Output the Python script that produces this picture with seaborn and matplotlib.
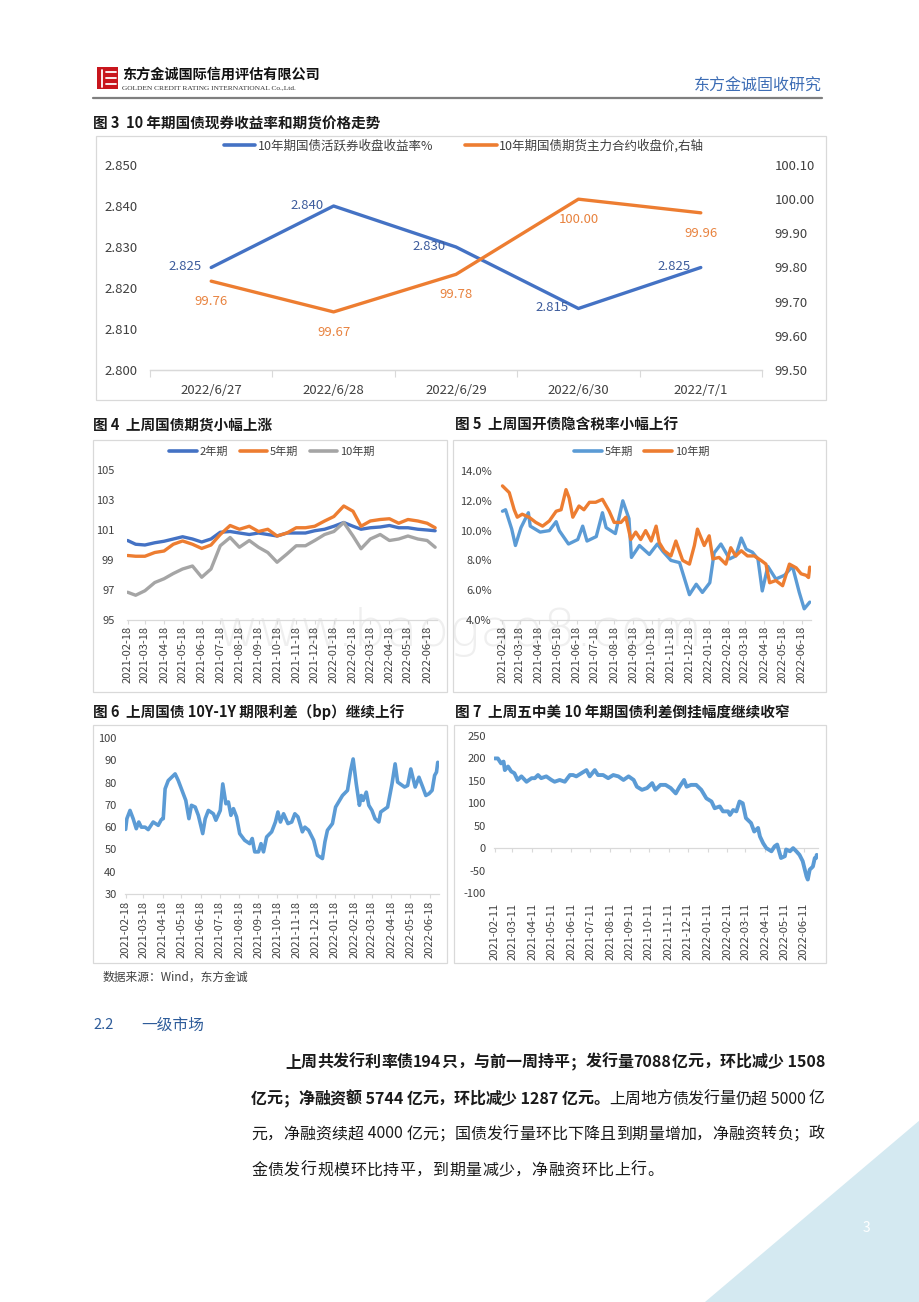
import re
import numpy as np
import pandas as pd
import seaborn as sns
import matplotlib.pyplot as plt
import matplotlib.dates as mdates
from matplotlib.patches import Rectangle, Polygon
from matplotlib.lines import Line2D

# ---- 图3: 10年期国债现券收益率和期货价格 ----
days3 = ['2022/6/27', '2022/6/28', '2022/6/29', '2022/6/30', '2022/7/1']
yield10 = [2.825, 2.840, 2.830, 2.815, 2.825]
fut10 = [99.76, 99.67, 99.78, 100.00, 99.96]

# ---- 图4: 国债期货 (半月读数) ----
dates4 = ['2021-02-18', '2021-03-03', '2021-03-18', '2021-04-03', '2021-04-18', '2021-05-03',
          '2021-05-18', '2021-06-03', '2021-06-18', '2021-07-03', '2021-07-18', '2021-08-03',
          '2021-08-18', '2021-09-03', '2021-09-18', '2021-10-03', '2021-10-18', '2021-11-03',
          '2021-11-18', '2021-12-03', '2021-12-18', '2022-01-03', '2022-01-18', '2022-02-03',
          '2022-02-18', '2022-03-03', '2022-03-18', '2022-04-03', '2022-04-18', '2022-05-03',
          '2022-05-18', '2022-06-03', '2022-06-18', '2022-07-01']
tf2 = [100.3, 100.05, 100.0, 100.15, 100.25, 100.4, 100.55, 100.4, 100.2, 100.4, 100.85, 100.9,
       100.8, 100.7, 100.8, 100.7, 100.6, 100.8, 100.8, 100.8, 100.95, 101.05, 101.25, 101.5,
       101.25, 101.05, 101.15, 101.2, 101.3, 101.15, 101.15, 101.05, 101.0, 100.95]
tf5 = [99.3, 99.25, 99.25, 99.5, 99.6, 100.05, 100.27, 100.05, 99.77, 100.0, 100.7, 101.3,
       101.05, 101.25, 100.9, 101.05, 100.6, 100.8, 101.15, 101.15, 101.25, 101.6, 101.9, 102.6,
       102.25, 101.25, 101.6, 101.7, 101.75, 101.45, 101.7, 101.6, 101.45, 101.15]
tf10 = [96.85, 96.65, 96.95, 97.5, 97.75, 98.1, 98.4, 98.6, 97.85, 98.4, 99.95, 100.5,
        99.85, 100.3, 99.85, 99.5, 98.85, 99.4, 99.95, 99.95, 100.3, 100.7, 100.9, 101.5,
        100.6, 99.75, 100.4, 100.7, 100.3, 100.4, 100.6, 100.4, 100.3, 99.85]

# ---- 图5: 国开债隐含税率 (%) ----
dates5a = ['2021-02-18', '2021-02-23', '2021-03-05', '2021-03-11', '2021-03-20', '2021-04-01',
           '2021-04-04', '2021-04-20', '2021-05-05', '2021-05-16', '2021-05-21', '2021-06-05',
           '2021-06-20', '2021-06-28', '2021-07-05', '2021-07-20', '2021-07-30', '2021-08-05',
           '2021-08-20', '2021-09-01', '2021-09-11', '2021-09-15', '2021-09-28', '2021-10-14',
           '2021-10-27', '2021-11-05', '2021-11-18', '2021-12-02', '2021-12-18', '2021-12-29',
           '2022-01-08', '2022-01-20', '2022-01-27', '2022-02-07', '2022-02-21', '2022-03-03',
           '2022-03-12', '2022-03-20', '2022-03-30', '2022-04-08', '2022-04-15', '2022-04-24',
           '2022-05-07', '2022-05-21', '2022-06-03', '2022-06-14', '2022-06-22', '2022-07-01']
tax5 = [11.3, 11.4, 10.1, 9.0, 10.2, 11.2, 10.3, 9.9, 10.0, 10.6, 10.0, 9.1,
        9.4, 10.3, 9.3, 9.6, 11.2, 10.2, 9.8, 12.0, 10.8, 8.2, 9.0, 8.4,
        9.1, 8.6, 8.0, 7.85, 5.7, 6.4, 5.85, 6.5, 8.5, 9.1, 8.1, 8.3,
        9.5, 8.75, 8.55, 8.1, 5.95, 7.6, 6.75, 7.0, 7.6, 5.85, 4.75, 5.2]
dates5b = ['2021-02-18', '2021-03-01', '2021-03-09', '2021-03-14', '2021-03-22', '2021-04-02',
           '2021-04-13', '2021-04-24', '2021-05-05', '2021-05-16', '2021-05-24', '2021-06-01',
           '2021-06-06', '2021-06-12', '2021-06-22', '2021-06-30', '2021-07-09', '2021-07-19',
           '2021-07-30', '2021-08-10', '2021-08-18', '2021-08-29', '2021-09-06', '2021-09-14',
           '2021-09-22', '2021-09-30', '2021-10-08', '2021-10-17', '2021-10-25', '2021-10-30',
           '2021-11-07', '2021-11-18', '2021-11-26', '2021-12-07', '2021-12-18', '2021-12-26',
           '2021-12-31', '2022-01-11', '2022-01-19', '2022-01-25', '2022-02-04', '2022-02-15',
           '2022-02-23', '2022-03-03', '2022-03-12', '2022-03-22', '2022-04-02', '2022-04-13',
           '2022-04-21', '2022-04-27', '2022-05-07', '2022-05-18', '2022-05-29', '2022-06-09',
           '2022-06-17', '2022-06-25', '2022-06-29', '2022-07-01']
tax10 = [13.0, 12.55, 11.4, 10.9, 11.1, 10.9, 10.55, 10.3, 10.65, 11.3, 11.4, 12.75,
         12.2, 10.9, 11.65, 11.4, 11.9, 11.9, 12.1, 11.3, 10.55, 10.55, 10.9, 9.4,
         9.9, 9.4, 10.0, 9.3, 10.3, 9.2, 8.65, 8.3, 9.3, 8.0, 7.75, 9.0,
         10.1, 9.0, 9.65, 8.1, 8.2, 7.75, 8.85, 8.3, 8.65, 8.3, 8.3, 8.0,
         7.75, 6.5, 6.65, 6.3, 7.75, 7.5, 7.1, 7.0, 6.85, 7.55]

# ---- 图6: 10Y-1Y 期限利差 (bp) ----
dates6 = ['2021-02-18', '2021-02-20', '2021-02-25', '2021-03-02', '2021-03-07', '2021-03-11',
          '2021-03-15', '2021-03-21', '2021-03-26', '2021-04-03', '2021-04-11', '2021-04-16',
          '2021-04-19', '2021-04-22', '2021-04-27', '2021-05-08', '2021-05-13', '2021-05-20',
          '2021-05-25', '2021-05-30', '2021-06-03', '2021-06-09', '2021-06-14', '2021-06-21',
          '2021-06-25', '2021-06-30', '2021-07-08', '2021-07-12', '2021-07-19', '2021-07-23',
          '2021-07-28', '2021-08-01', '2021-08-05', '2021-08-09', '2021-08-14', '2021-08-19',
          '2021-08-27', '2021-09-04', '2021-09-08', '2021-09-12', '2021-09-18', '2021-09-22',
          '2021-09-26', '2021-10-01', '2021-10-09', '2021-10-15', '2021-10-19', '2021-10-23',
          '2021-10-28', '2021-11-04', '2021-11-10', '2021-11-15', '2021-11-20', '2021-11-27',
          '2021-12-01', '2021-12-07', '2021-12-15', '2021-12-21', '2021-12-29', '2022-01-02',
          '2022-01-06', '2022-01-14', '2022-01-19', '2022-01-30', '2022-02-07', '2022-02-12',
          '2022-02-16', '2022-02-21', '2022-02-26', '2022-03-01', '2022-03-04', '2022-03-09',
          '2022-03-13', '2022-03-18', '2022-03-23', '2022-03-29', '2022-04-01', '2022-04-12',
          '2022-04-19', '2022-04-24', '2022-04-28', '2022-05-09', '2022-05-14', '2022-05-19',
          '2022-05-26', '2022-06-01', '2022-06-07', '2022-06-12', '2022-06-17', '2022-06-22',
          '2022-06-26', '2022-06-29', '2022-07-01']
spread6 = [59, 63.8, 67.5, 63.8, 59.3, 62.3, 60, 60, 58.9, 62.3,
           60.8, 63.4, 63.8, 77.2, 80.9, 83.9, 80.9, 75.7, 72.0, 63.8,
           69.8, 69, 65.3, 57.1, 63.8, 67.5, 66, 63.1, 67.5, 79.4,
           70.5, 71.3, 65.3, 68.3, 64.6, 57.1, 54.1, 52.6, 54.9, 48.9,
           48.9, 52.6, 48.9, 55.6, 57.9, 62.3, 66.8, 62.3, 66, 61.6,
           62.3, 66, 64.6, 57.9, 60, 58.6, 54.1, 47.4, 45.9, 53.4,
           58.6, 61.6, 69, 74.2, 76.5, 85.4, 90.6, 79.4, 69.8, 74.2,
           72, 75.7, 69.8, 67.5, 63.8, 62.3, 66.8, 69, 79.4, 88.4,
           80.2, 78, 78.7, 86.1, 78, 82.4, 78, 74.2, 75, 76.5,
           83.2, 84.7, 89.1]

# ---- 图7: 中美10年期国债利差 (bp) ----
dates7 = ['2021-02-11', '2021-02-16', '2021-02-21', '2021-02-25', '2021-02-27', '2021-03-04',
          '2021-03-09', '2021-03-14', '2021-03-19', '2021-03-25', '2021-04-02', '2021-04-10',
          '2021-04-15', '2021-04-20', '2021-04-25', '2021-05-03', '2021-05-11', '2021-05-16',
          '2021-05-24', '2021-06-01', '2021-06-09', '2021-06-14', '2021-06-19', '2021-06-27',
          '2021-07-05', '2021-07-10', '2021-07-18', '2021-07-23', '2021-07-31', '2021-08-08',
          '2021-08-16', '2021-08-24', '2021-09-01', '2021-09-09', '2021-09-17', '2021-09-22',
          '2021-09-30', '2021-10-08', '2021-10-16', '2021-10-21', '2021-10-29', '2021-11-06',
          '2021-11-14', '2021-11-22', '2021-11-28', '2021-12-05', '2021-12-09', '2021-12-16',
          '2021-12-24', '2022-01-01', '2022-01-09', '2022-01-17', '2022-01-22', '2022-01-30',
          '2022-02-04', '2022-02-12', '2022-02-15', '2022-02-20', '2022-02-25', '2022-03-02',
          '2022-03-07', '2022-03-12', '2022-03-20', '2022-03-25', '2022-03-31', '2022-04-03',
          '2022-04-08', '2022-04-13', '2022-04-21', '2022-04-26', '2022-04-30', '2022-05-06',
          '2022-05-12', '2022-05-14', '2022-05-20', '2022-05-25', '2022-05-30', '2022-06-04',
          '2022-06-09', '2022-06-15', '2022-06-17', '2022-06-20', '2022-06-25', '2022-06-28',
          '2022-06-30', '2022-07-01']
cnus7 = [200, 200, 189, 193, 174, 182, 171, 167, 152, 160,
         148, 156, 156, 163, 156, 160, 152, 148, 152, 148,
         163, 163, 160, 167, 174, 160, 174, 163, 163, 156,
         163, 160, 152, 160, 152, 137, 130, 134, 145, 130,
         141, 141, 134, 122, 137, 152, 137, 141, 141, 130,
         111, 104, 89, 93, 82, 82, 74, 85, 82, 104,
         100, 67, 56, 37, 45, 26, 11, 0, -7, 4,
         8, -22, -18, -3, -7, 0, -7, -15, -29, -63,
         -70, -48, -41, -22, -22, -15]

para = [
    [('上周共发行利率债194只，与前一周持平；发行量7088亿元，环比减少 1508', 'bold')],
    [('亿元；净融资额 5744 亿元，环比减少 1287 亿元。', 'bold'), ('上周地方债发行量仍超 5000 亿', 'normal')],
    [('元，净融资续超 4000 亿元；国债发行量环比下降且到期量增加，净融资转负；政', 'normal')],
    [('金债发行规模环比持平，到期量减少，净融资环比上行。', 'normal')],
]

sns.set_theme(style='white')
plt.rcParams['font.family'] = ['Noto Sans CJK SC', 'DejaVu Sans']
plt.rcParams['axes.unicode_minus'] = False

W, H = 920, 1302
fig = plt.figure(figsize=(W / 100, H / 100), dpi=100)
fig.patch.set_facecolor('white')

AX = '#d9d9d9'
TC = '#404040'
BLUE = '#4472C4'
ORANGE = '#ED7D31'
GRAY = '#A5A5A5'
LBLUE = '#5B9BD5'
TFS = 10.5


def fx(x):
    return x / W


def fy(y):
    return 1 - y / H


def add_ax(x0, y0, x1, y1):
    return fig.add_axes([x0 / W, 1 - y1 / H, (x1 - x0) / W, (y1 - y0) / H])


def box(x0, y0, x1, y1):
    fig.patches.append(Rectangle((fx(x0), fy(y1)), (x1 - x0) / W, (y1 - y0) / H,
                                 transform=fig.transFigure, fill=False, ec=AX, lw=0.9))


def txt(x, y, s, **kw):
    kw.setdefault('va', 'center')
    kw.setdefault('color', '#1a1a1a')
    return fig.text(fx(x), fy(y), s, **kw)


def style(ax, pad=5):
    for s in ['top', 'right', 'left']:
        ax.spines[s].set_visible(False)
    ax.spines['bottom'].set_color(AX)
    ax.spines['bottom'].set_linewidth(0.9)
    ax.set_xlabel('')
    ax.set_ylabel('')
    ax.grid(False)
    ax.patch.set_alpha(0)
    ax.tick_params(axis='y', length=0, labelsize=8, labelcolor=TC, pad=pad)


def date_axis(ax, day, lo, hi, pad=1):
    ax.set_xlim(pd.Timestamp(lo), pd.Timestamp(hi))
    ax.xaxis.set_major_locator(mdates.MonthLocator(bymonthday=day))
    ax.xaxis.set_major_formatter(mdates.DateFormatter('%Y-%m-%d'))
    ax.tick_params(axis='x', bottom=True, length=3, width=0.8, color=AX, labelsize=8,
                   labelcolor=TC, pad=pad, labelrotation=90)


def small_legend(labels, colors, cx, cy, fs=8):
    hs = [Line2D([], [], color=c, lw=2.6) for c in colors]
    lg = fig.legend(hs, labels, loc='center', bbox_to_anchor=(fx(cx), fy(cy)), ncol=len(hs),
                    frameon=False, fontsize=fs, handlelength=2.5, handletextpad=0.25,
                    columnspacing=1.0, borderaxespad=0, borderpad=0)
    for t in lg.get_texts():
        t.set_color(TC)
    return lg


# ---------------- header ----------------
fig.patches.append(Rectangle((fx(97), fy(89)), 21 / W, 22 / H, transform=fig.transFigure,
                             fc='#c8161d', ec='none'))
for yy in [72, 78, 84]:
    fig.add_artist(Line2D([fx(106), fx(116)], [fy(yy), fy(yy)], color='white', lw=1.3))
fig.add_artist(Line2D([fx(102), fx(102)], [fy(70), fy(87)], color='white', lw=1.3))
txt(122, 75, '东方金诚国际信用评估有限公司', fontsize=10.2, weight='bold', color='#111111')
txt(122, 88, 'GOLDEN CREDIT RATING INTERNATIONAL Co.,Ltd.', fontsize=5.3,
    family='Liberation Serif', color='#333333')
txt(822, 86, '东方金诚固收研究', ha='right', fontsize=11.5, color='#3d6db5')
fig.add_artist(Line2D([fx(93), fx(822)], [fy(98), fy(98)], color='#7f7f7f', lw=1.6))

# watermark
txt(460, 632, 'www.baogao8.com', ha='center', fontsize=37, color='#efefef',
    family='DejaVu Sans', weight='light', zorder=-1)

# ---------------- 图3 ----------------
txt(93, 124, '图 3  10 年期国债现券收益率和期货价格走势', fontsize=TFS, weight='bold')
box(96, 136, 826, 400)
ax3 = add_ax(150, 165, 762, 370)
x3 = np.arange(len(days3))
sns.lineplot(x=x3, y=yield10, ax=ax3, color=BLUE, lw=2.4, legend=False)
ax3b = ax3.twinx()
sns.lineplot(x=x3, y=fut10, ax=ax3b, color=ORANGE, lw=2.4, legend=False)
style(ax3, pad=9)
style(ax3b, pad=9)
ax3.set_xlim(-0.5, len(days3) - 0.5)
ax3.set_ylim(2.800, 2.850)
ax3.set_yticks([2.80, 2.81, 2.82, 2.83, 2.84, 2.85])
ax3.set_yticklabels([f'{v:.3f}' for v in ax3.get_yticks()])
ax3b.set_ylim(99.5, 100.1)
ax3b.set_yticks([99.5, 99.6, 99.7, 99.8, 99.9, 100.0, 100.1])
ax3b.set_yticklabels([f'{v:.2f}' for v in ax3b.get_yticks()])
ax3.tick_params(axis='y', labelsize=9.5)
ax3b.tick_params(axis='y', labelsize=9.5)
ax3.set_xticks(x3)
ax3.set_xticklabels(days3)
ax3.set_xticks(np.arange(-0.5, len(days3)), minor=True)
ax3.tick_params(axis='x', which='major', length=0, labelsize=9.5, labelcolor=TC, pad=10)
ax3.tick_params(axis='x', which='minor', bottom=True, length=5, width=0.8, color=AX)
for xi, v in zip(x3, yield10):
    ax3.annotate(f'{v:.3f}', (xi, v), xytext=(-10, 1), textcoords='offset pixels',
                 ha='right', va='center', fontsize=9.5, color='#3d5c9c')
for xi, v in zip(x3, fut10):
    ax3b.annotate(f'{v:.2f}', (xi, v), xytext=(0, -14), textcoords='offset pixels',
                  ha='center', va='top', fontsize=9.5, color='#E8823E')
lg3 = fig.legend([Line2D([], [], color=BLUE, lw=2.6), Line2D([], [], color=ORANGE, lw=2.6)],
                 ['10年期国债活跃券收盘收益率%', '10年期国债期货主力合约收盘价,右轴'],
                 loc='center', bbox_to_anchor=(fx(464), fy(146)), ncol=2, frameon=False,
                 fontsize=9, handlelength=2.5, handletextpad=0.2, columnspacing=2.6,
                 borderaxespad=0, borderpad=0)
for t in lg3.get_texts():
    t.set_color(TC)

# ---------------- 图4 ----------------
txt(93, 425, '图 4  上周国债期货小幅上涨', fontsize=TFS, weight='bold')
box(93, 440, 447, 692)
ax4 = add_ax(127, 470, 437, 620)
df4 = pd.DataFrame({'date': pd.to_datetime(dates4), '2年期': tf2, '5年期': tf5, '10年期': tf10})
df4 = df4.melt('date', var_name='品种', value_name='价格')
sns.lineplot(data=df4, x='date', y='价格', hue='品种', hue_order=['2年期', '5年期', '10年期'],
             palette=[BLUE, ORANGE, GRAY], lw=2.4, ax=ax4, legend=False)
style(ax4, pad=9)
ax4.set_ylim(95, 105)
ax4.set_yticks([95, 97, 99, 101, 103, 105])
date_axis(ax4, 18, '2021-02-17', '2022-07-04')
small_legend(['2年期', '5年期', '10年期'], [BLUE, ORANGE, GRAY], 272, 452)

# ---------------- 图5 ----------------
txt(455, 425, '图 5  上周国开债隐含税率小幅上行', fontsize=TFS, weight='bold')
box(453, 440, 826, 692)
ax5 = add_ax(500, 471, 811, 620)
df5 = pd.concat([
    pd.DataFrame({'date': pd.to_datetime(dates5a), 'rate': tax5, '品种': '5年期'}),
    pd.DataFrame({'date': pd.to_datetime(dates5b), 'rate': tax10, '品种': '10年期'}),
])
sns.lineplot(data=df5, x='date', y='rate', hue='品种', hue_order=['5年期', '10年期'],
             palette=[LBLUE, ORANGE], lw=2.4, ax=ax5, legend=False)
style(ax5, pad=6)
ax5.set_ylim(4, 14)
ax5.set_yticks([4, 6, 8, 10, 12, 14])
ax5.set_yticklabels([f'{v:.1f}%' for v in ax5.get_yticks()])
date_axis(ax5, 18, '2021-02-14', '2022-07-03')
small_legend(['5年期', '10年期'], [LBLUE, ORANGE], 642, 452)

# ---------------- 图6 ----------------
txt(93, 712, '图 6  上周国债 10Y-1Y 期限利差（bp）继续上行', fontsize=TFS, weight='bold')
box(93, 725, 447, 963)
ax6 = add_ax(125, 738, 439, 894)
sns.lineplot(x=pd.to_datetime(dates6), y=spread6, color=LBLUE, lw=2.6, ax=ax6, legend=False)
style(ax6, pad=6)
ax6.set_ylim(30, 100)
ax6.set_yticks(range(30, 101, 10))
date_axis(ax6, 18, '2021-02-17', '2022-07-03', pad=2)

# ---------------- 图7 ----------------
txt(455, 712, '图 7  上周五中美 10 年期国债利差倒挂幅度继续收窄', fontsize=TFS, weight='bold')
box(454, 725, 826, 963)
ax7 = add_ax(494, 736, 818, 893)
sns.lineplot(x=pd.to_datetime(dates7), y=cnus7, color=LBLUE, lw=2.8, ax=ax7, legend=False)
style(ax7, pad=6)
ax7.spines['bottom'].set_visible(False)
ax7.set_ylim(-100, 250)
ax7.set_yticks(range(-100, 251, 50))
date_axis(ax7, 11, '2021-02-10', '2022-07-03', pad=7)
ax7.tick_params(axis='x', length=0)
lo7, hi7 = ax7.get_ylim()
sec = ax7.secondary_xaxis((0 - lo7) / (hi7 - lo7))
sec.xaxis.set_major_locator(mdates.MonthLocator(bymonthday=11))
sec.tick_params(axis='x', length=3, width=0.8, color=AX, labelbottom=False, labeltop=False)
for s in sec.spines.values():
    s.set_color(AX)
    s.set_linewidth(0.9)

txt(103, 977, '数据来源：Wind，东方金诚', fontsize=8.5, color='#404040')

# ---------------- 正文 ----------------
txt(93, 1025, '2.2', fontsize=10.5, color='#2e5c9a')
txt(141, 1025, '一级市场', fontsize=11.3, color='#2e5c9a')

renderer = fig.canvas.get_renderer()
FS = 11.5


def justify(segs, x0, x1, y, stretch=True):
    pieces = []
    for s, w in segs:
        for tok in re.findall(r'[0-9A-Za-z. ]+|.', s):
            t = fig.text(0, 0, tok, fontsize=FS, weight=w, color='#1a1a1a', va='center')
            pieces.append((t, t.get_window_extent(renderer=renderer).width))
    total = sum(p[1] for p in pieces)
    gap = (x1 - x0 - total) / (len(pieces) - 1) if stretch else 0.5
    x = x0
    for t, wd in pieces:
        t.set_position((fx(x), fy(y)))
        x += wd + gap


line_y = [1062, 1099, 1134, 1170]
justify(para[0], 285, 825, line_y[0])
justify(para[1], 251, 825, line_y[1])
justify(para[2], 251, 825, line_y[2])
justify(para[3], 251, 825, line_y[3], stretch=False)

# page corner
fig.patches.append(Polygon([(fx(705), fy(1302)), (fx(920), fy(1120)), (fx(920), fy(1302))],
                           closed=True, transform=fig.transFigure, fc='#d4e9f1', ec='none'))
txt(866, 1228, '3', ha='center', fontsize=10, color='white')

fig.savefig('out.png', dpi=100, facecolor='white')
